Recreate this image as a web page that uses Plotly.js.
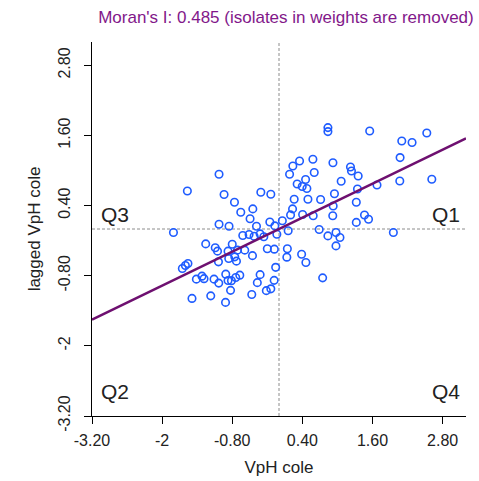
<!DOCTYPE html>
<html>
<head>
<meta charset="utf-8">
<script src="https://cdn.plot.ly/plotly-3.0.1.min.js"></script>
<style>html,body{margin:0;padding:0;background:#fff;}#chart{width:479px;height:481px;}</style>
</head>
<body>
<div id="chart"></div>
<script>
// Standardized variable (VpH cole) and its spatial lag
const vph = [
-1.026,-1.568,-0.940,-0.762,-0.654,-0.448,-0.495,-0.311,-0.140,0.181,
0.237,0.352,0.580,0.603,0.311,0.455,0.397,0.477,0.260,0.495,
0.232,0.404,0.198,0.712,0.585,0.057,-0.157,0.837,0.837,1.552,
2.101,2.277,2.529,2.072,2.615,2.067,1.677,0.923,1.223,1.240,
1.355,1.064,1.343,0.949,0.927,1.323,0.920,1.463,1.532,1.323,
0.688,0.837,0.975,1.043,0.975,1.957,0.387,0.460,0.747,-1.026,
-0.855,-1.806,-0.385,-0.620,-0.512,-0.323,-0.071,-0.037,0.157,-0.260,
-0.426,-1.254,-1.091,-1.052,-0.800,-0.872,-0.711,-0.860,-0.757,-0.728,
-1.036,-0.586,-0.454,-0.200,-0.080,0.143,0.134,-1.558,-1.602,-1.654,
-1.414,-1.318,-1.283,-1.112,-0.911,-0.872,-0.740,-0.671,-0.814,-1.031,
-0.829,-1.168,-1.489,-0.915,-0.466,-0.371,-0.323,-0.217,-0.140,-0.083,
-0.057
];
const laggedVph = [
0.937,0.651,0.590,0.458,0.287,0.344,0.176,0.629,0.595,0.937,
1.079,1.164,1.193,0.966,0.771,0.846,0.726,0.692,0.509,0.509,
0.344,0.248,0.241,0.504,0.227,0.142,0.121,1.735,1.667,1.677,
1.506,1.479,1.643,1.222,0.851,0.822,0.754,1.133,1.062,0.993,
0.908,0.817,0.685,0.603,0.393,0.458,0.227,0.239,0.168,0.113,
-0.009,-0.118,-0.060,-0.145,-0.289,-0.060,-0.431,-0.573,-0.836,0.082,
0.048,-0.060,0.048,-0.111,-0.094,-0.084,0.053,-0.089,-0.029,-0.132,
-0.123,-0.255,-0.320,-0.379,-0.260,-0.379,-0.362,-0.504,-0.477,-0.550,
-0.562,-0.362,-0.456,-0.337,-0.345,-0.337,-0.482,-0.590,-0.624,-0.675,
-0.858,-0.807,-0.850,-0.858,-0.773,-0.880,-0.829,-0.790,-0.884,-0.926,
-1.050,-1.144,-1.188,-1.256,-1.120,-0.918,-0.781,-1.055,-1.024,-0.879,
-0.656
];
const moransI = 0.485;
const tickVals = [-3.2, -2, -0.8, 0.4, 1.6, 2.8];
const tickText = ["-3.20", "-2", "-0.80", "0.40", "1.60", "2.80"];
const axisRange = [-3.2, 3.2];
const quadrantLabels = ["Q1", "Q2", "Q3", "Q4"];

const lineX = axisRange.slice();
const lineY = lineX.map(v => moransI * v);

const FONT = 'Liberation Sans, Arial, sans-serif';

const traces = [
  {x: [0, 0], y: axisRange, mode: 'lines', line: {color: '#8c8c8c', width: 1, dash: '3px,2px'}, hoverinfo: 'skip', showlegend: false},
  {x: axisRange, y: [0, 0], mode: 'lines', line: {color: '#8c8c8c', width: 1, dash: '3px,2px'}, hoverinfo: 'skip', showlegend: false},
  {x: vph, y: laggedVph, mode: 'markers', type: 'scatter',
   marker: {symbol: 'circle-open', size: 7.5, color: '#1f5cff', line: {width: 1.6, color: '#1f5cff'}}, showlegend: false},
  {x: lineX, y: lineY, mode: 'lines', line: {color: '#6e1070', width: 2.6}, showlegend: false}
];

const axisCommon = {
  range: axisRange, tickvals: tickVals, ticktext: tickText, ticks: 'outside', ticklen: 7, tickwidth: 1,
  tickcolor: '#000', showline: true, linecolor: '#000', linewidth: 1, showgrid: false, zeroline: false,
  tickfont: {family: FONT, size: 16, color: '#222'}
};

const qFont = {family: FONT, size: 21, color: '#222'};
const layout = {
  width: 479, height: 481,
  margin: {l: 92, r: 13, t: 42, b: 65},
  paper_bgcolor: '#fff', plot_bgcolor: '#fff',
  title: {text: "Moran's I: 0.485 (isolates in weights are removed)", x: 0.597, xanchor: 'center', y: 0.965, yanchor: 'middle',
          font: {family: FONT, size: 17, color: '#82188a'}},
  xaxis: Object.assign({}, axisCommon, {
    ticklabelstandoff: 3,
    title: {text: 'VpH cole', standoff: 12, font: {family: FONT, size: 17, color: '#222'}}
  }),
  yaxis: Object.assign({}, axisCommon, {
    tickangle: -90,
    ticklabelstandoff: 8,
    title: {text: 'lagged VpH cole', standoff: 10, font: {family: FONT, size: 17, color: '#222'}}
  }),
  annotations: [
    {text: quadrantLabels[0], xref: 'paper', yref: 'paper', x: 0.99, xanchor: 'right', y: 0.54, showarrow: false, font: qFont},
    {text: quadrantLabels[1], xref: 'paper', yref: 'paper', x: 0.02, xanchor: 'left', y: 0.03, showarrow: false, font: qFont},
    {text: quadrantLabels[2], xref: 'paper', yref: 'paper', x: 0.02, xanchor: 'left', y: 0.54, showarrow: false, font: qFont},
    {text: quadrantLabels[3], xref: 'paper', yref: 'paper', x: 0.99, xanchor: 'right', y: 0.03, showarrow: false, font: qFont}
  ]
};

Plotly.newPlot('chart', traces, layout, {displayModeBar: false, staticPlot: true});
</script>
</body>
</html>
